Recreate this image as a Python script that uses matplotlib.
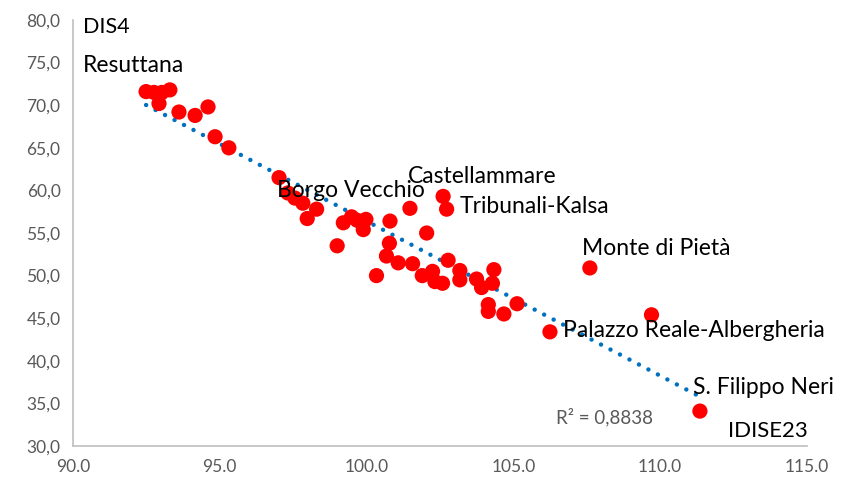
import numpy as np
import matplotlib.pyplot as plt
from matplotlib.ticker import FuncFormatter

# DIS4 vs IDISE23 per quartiere
idise23 = [92.49, 92.76, 93.03, 93.30, 92.93, 93.61, 94.16, 94.60, 94.84, 95.31,
           97.02, 97.32, 97.56, 97.83, 98.30, 97.98, 99.21, 99.49, 99.68, 99.98,
           99.89, 100.80, 101.48, 102.05, 99.00, 100.78, 100.68, 101.08, 101.57, 102.61,
           102.73, 100.34, 101.90, 102.25, 102.33, 102.59, 102.78, 103.18, 103.18, 103.75,
           103.92, 104.34, 104.29, 104.15, 104.15, 104.68, 105.13, 106.25, 107.61, 109.71,
           111.36]
dis4 = [71.6, 71.5, 71.5, 71.8, 70.2, 69.2, 68.8, 69.8, 66.3, 65.0,
        61.5, 59.7, 59.1, 58.5, 57.8, 56.7, 56.2, 56.9, 56.5, 56.6,
        55.4, 56.4, 57.9, 55.0, 53.5, 53.8, 52.3, 51.5, 51.4, 59.3,
        57.8, 50.0, 50.0, 50.5, 49.3, 49.1, 51.8, 50.6, 49.5, 49.6,
        48.6, 50.7, 49.1, 46.6, 45.8, 45.5, 46.7, 43.4, 50.9, 45.4,
        34.1]

etichette = ["Resuttana", "Borgo Vecchio", "Castellammare", "Tribunali-Kalsa",
             "Monte di Pietà", "Palazzo Reale-Albergheria", "S. Filippo Neri"]
etichette_x = [90.33, 96.94, 101.4, 103.18, 107.33, 106.69, 111.12]
etichette_y = [73.9, 59.2, 60.87, 57.35, 52.42, 42.79, 36.1]

plt.rcParams['font.family'] = ['Lato', 'DejaVu Sans']

fig = plt.figure(figsize=(8.43, 4.8), dpi=100)
ax = fig.add_axes([0.0866, 0.0708, 0.8704, 0.8875])

x = np.array(idise23)
y = np.array(dis4)

# trendline lineare
m, q = np.polyfit(x, y, 1)
xt = np.array([x.min(), x.max()])
ax.plot(xt, m * xt + q, color='#0070C0', lw=3.2,
        linestyle=(0, (0.01, 2.4)), dash_capstyle='round', zorder=2)

ax.scatter(x, y, s=120, color='#FF0000', edgecolors='none', zorder=3)

for t, tx, ty in zip(etichette, etichette_x, etichette_y):
    ax.text(tx, ty, t, fontsize=16.5, color='black', va='baseline', zorder=4)

ax.text(90.33, 78.47, "DIS4", fontsize=15.5, va='baseline')
ax.text(112.31, 31.06, "IDISE23", fontsize=16, va='baseline')
ax.text(106.45, 32.7, "R² = 0,8838", fontsize=13.5, color='#595959', va='baseline')

ax.set_xlim(90, 115)
ax.set_ylim(30, 80)
ax.set_xticks(np.arange(90, 116, 5))
ax.set_yticks(np.arange(30, 81, 5))
ax.xaxis.set_major_formatter(FuncFormatter(lambda v, p: f"{v:.1f}"))
ax.yaxis.set_major_formatter(FuncFormatter(lambda v, p: f"{v:.1f}".replace('.', ',')))
ax.tick_params(length=0, labelsize=12.5, colors='#595959', pad=9)

for s in ['top', 'right']:
    ax.spines[s].set_visible(False)
for s in ['left', 'bottom']:
    ax.spines[s].set_color('#BFBFBF')
    ax.spines[s].set_linewidth(1.2)

fig.savefig('out.png', dpi=100)
